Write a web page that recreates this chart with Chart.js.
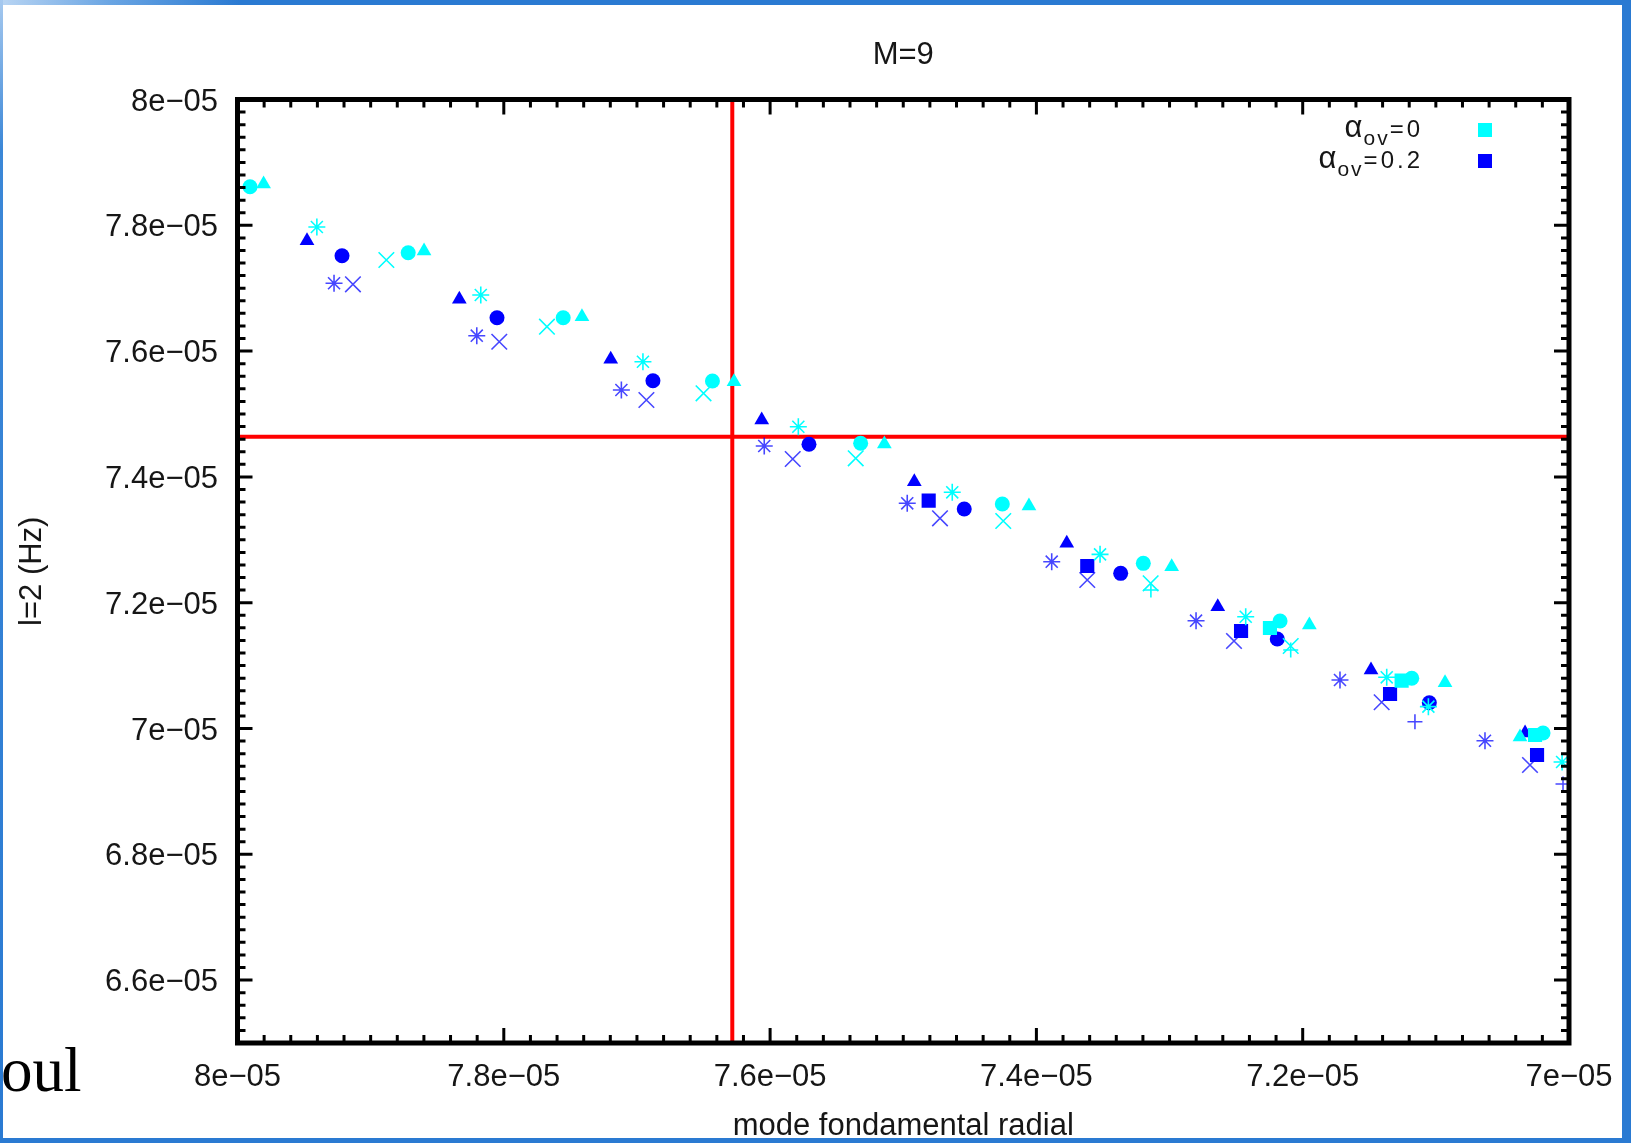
<!DOCTYPE html>
<html>
<head>
<meta charset="utf-8">
<title>M=9</title>
<script src="https://cdn.jsdelivr.net/npm/chart.js@4.4.1/dist/chart.umd.min.js"></script>
<style>
  html, body { margin: 0; padding: 0; background: #fff; }
  #page { position: relative; width: 1631px; height: 1143px; overflow: hidden; background: #fff; }
  #chart { position: absolute; left: 0; top: 0; }
  #fragment {
    position: absolute; left: 1px; top: 1039px;
    font-family: "Liberation Serif", "Times New Roman", serif;
    font-size: 63px; line-height: 1; color: #000;
  }
  .frame-top { position: absolute; left: 0; top: 0; width: 1631px; height: 5px;
    background: linear-gradient(to right, #b9d5f3 0px, #6aa5e3 110px, #2a7ad2 240px, #2a7ad2 100%); }
  .frame-left { position: absolute; left: 0; top: 0; width: 3px; height: 1143px;
    background: linear-gradient(to bottom, #a6c9ef 0px, #3b87d7 150px, #2a7ad2 100%); }
  .frame-right { position: absolute; right: 0; top: 0; width: 9px; height: 1143px; background: #2a7ad2; }
  .frame-bottom { position: absolute; left: 0; bottom: 0; width: 1631px; height: 5px; background: #2a7ad2; }
</style>
</head>
<body>
<div id="page">
  <canvas id="chart" width="1631" height="1143"></canvas>
  <div id="fragment">oul</div>
  <div class="frame-top"></div>
  <div class="frame-left"></div>
  <div class="frame-right"></div>
  <div class="frame-bottom"></div>
</div>
<script>
// axes
const X_MIN = 7e-5, X_MAX = 8e-5;
const Y_MIN = 6.5e-5, Y_MAX = 8e-5;
const xTickValues = [8e-5, 7.8e-5, 7.6e-5, 7.4e-5, 7.2e-5, 7e-5];
const xTickLabels = ['8e\u221205', '7.8e\u221205', '7.6e\u221205', '7.4e\u221205', '7.2e\u221205', '7e\u221205'];
const yTickValues = [8e-5, 7.8e-5, 7.6e-5, 7.4e-5, 7.2e-5, 7e-5, 6.8e-5, 6.6e-5];
const yTickLabels = ['8e\u221205', '7.8e\u221205', '7.6e\u221205', '7.4e\u221205', '7.2e\u221205', '7e\u221205', '6.8e\u221205', '6.6e\u221205'];

// alpha_ov = 0 (cyan)
const cyanCircleX   = [7.9906e-5, 7.8718e-5, 7.7554e-5, 7.6433e-5, 7.532e-5, 7.4256e-5, 7.3197e-5, 7.217e-5, 7.1181e-5, 7.0195e-5];
const cyanCircleY   = [7.8614e-5, 7.7564e-5, 7.6531e-5, 7.5525e-5, 7.4534e-5, 7.3569e-5, 7.2626e-5, 7.1709e-5, 7.0798e-5, 6.9928e-5];
const cyanTriangleX = [7.9804e-5, 7.8599e-5, 7.7413e-5, 7.6271e-5, 7.5142e-5, 7.4056e-5, 7.2984e-5, 7.195e-5, 7.0931e-5, 7.0368e-5];
const cyanTriangleY = [7.8657e-5, 7.7591e-5, 7.6547e-5, 7.5514e-5, 7.4523e-5, 7.3537e-5, 7.2572e-5, 7.1645e-5, 7.0728e-5, 6.9865e-5];
const cyanCrossX    = [7.8882e-5, 7.7676e-5, 7.65e-5, 7.5357e-5, 7.4249e-5, 7.3142e-5, 7.209e-5];
const cyanCrossY    = [7.7448e-5, 7.6388e-5, 7.5329e-5, 7.4296e-5, 7.3299e-5, 7.2308e-5, 7.1312e-5];
const cyanStarX     = [7.9404e-5, 7.8173e-5, 7.6955e-5, 7.5788e-5, 7.4632e-5, 7.3522e-5, 7.2428e-5, 7.1369e-5, 7.1056e-5, 7.0052e-5];
const cyanStarY     = [7.7973e-5, 7.6892e-5, 7.5831e-5, 7.4798e-5, 7.3755e-5, 7.2769e-5, 7.1777e-5, 7.0814e-5, 7.0347e-5, 6.9467e-5];
const cyanSquareX   = [7.2246e-5, 7.1257e-5, 7.0255e-5];
const cyanSquareY   = [7.1598e-5, 7.076e-5, 6.9897e-5];
const cyanPlusX     = [7.314e-5, 7.209e-5];
const cyanPlusY     = [7.2202e-5, 7.1248e-5];

// alpha_ov = 0.2 (blue)
const blueCircleX   = [7.9215e-5, 7.8051e-5, 7.688e-5, 7.5708e-5, 7.4542e-5, 7.3367e-5, 7.2191e-5, 7.1049e-5];
const blueCircleY   = [7.7517e-5, 7.6531e-5, 7.5529e-5, 7.4518e-5, 7.349e-5, 7.2467e-5, 7.1423e-5, 7.041e-5];
const blueTriangleX = [7.9478e-5, 7.8334e-5, 7.7197e-5, 7.6063e-5, 7.4917e-5, 7.3772e-5, 7.2638e-5, 7.1487e-5, 7.033e-5];
const blueTriangleY = [7.7755e-5, 7.6823e-5, 7.587e-5, 7.4905e-5, 7.3924e-5, 7.2944e-5, 7.1936e-5, 7.093e-5, 6.9928e-5];
const blueCrossX    = [7.9133e-5, 7.8034e-5, 7.6929e-5, 7.583e-5, 7.4724e-5, 7.3618e-5, 7.2516e-5, 7.1407e-5, 7.0293e-5];
const blueCrossY    = [7.7062e-5, 7.6149e-5, 7.5223e-5, 7.4285e-5, 7.3342e-5, 7.2361e-5, 7.1391e-5, 7.0417e-5, 6.942e-5];
const blueStarX     = [7.9275e-5, 7.8203e-5, 7.7117e-5, 7.6044e-5, 7.497e-5, 7.3885e-5, 7.2801e-5, 7.172e-5, 7.0631e-5];
const blueStarY     = [7.7078e-5, 7.6245e-5, 7.5382e-5, 7.4491e-5, 7.358e-5, 7.2652e-5, 7.1714e-5, 7.0771e-5, 6.9806e-5];
const blueSquareX   = [7.4809e-5, 7.3618e-5, 7.2463e-5, 7.1344e-5, 7.024e-5];
const blueSquareY   = [7.3622e-5, 7.2583e-5, 7.155e-5, 7.0548e-5, 6.9579e-5];
const bluePlusX     = [7.1157e-5, 7.0045e-5];
const bluePlusY     = [7.0108e-5, 6.9118e-5];

// red reference lines
const refLineX = 7.6284e-5;
const refLineY = 7.4638e-5;

const legendLabels = ['0', '0.2'];

const CYAN = '#00ffff';
const BLUE = '#0000ff';
const BLUE_THIN = 'rgba(0,0,255,0.72)';
const FONT = '"Liberation Sans", Arial, Helvetica, sans-serif';
const TEXT = '#161616';

function pts(xs, ys) {
  return xs.map((v, i) => ({ x: v, y: ys[i] }));
}

function filled(xs, ys, color, style, r) {
  return {
    data: pts(xs, ys), pointStyle: style, pointRadius: r, pointHoverRadius: r,
    backgroundColor: color, borderColor: color, borderWidth: 0, clip: 2
  };
}

function stroked(xs, ys, color, style, r) {
  return {
    data: pts(xs, ys), pointStyle: style, pointRadius: r, pointHoverRadius: r,
    backgroundColor: color, borderColor: color, borderWidth: 1.6, clip: 2
  };
}

// gnuplot style border with inward ticks on all sides
const gnuplotFrame = {
  id: 'gnuplotFrame',
  afterDatasetsDraw(chart) {
    const { ctx, chartArea: { left, right, top, bottom }, scales: { x, y } } = chart;
    ctx.save();
    ctx.strokeStyle = '#000';
    ctx.lineWidth = 3;
    const nx = 50;
    for (let i = 0; i <= nx; i++) {
      const px = x.getPixelForValue(X_MAX - i * (X_MAX - X_MIN) / nx);
      const len = i % 10 === 0 ? 15 : 8;
      ctx.beginPath();
      ctx.moveTo(px, bottom); ctx.lineTo(px, bottom - len);
      ctx.moveTo(px, top); ctx.lineTo(px, top + len);
      ctx.stroke();
    }
    const ny = 75;
    for (let i = 0; i <= ny; i++) {
      const py = y.getPixelForValue(Y_MAX - i * (Y_MAX - Y_MIN) / ny);
      const len = i % 10 === 0 ? 15 : 8;
      ctx.beginPath();
      ctx.moveTo(left, py); ctx.lineTo(left + len, py);
      ctx.moveTo(right, py); ctx.lineTo(right - len, py);
      ctx.stroke();
    }
    ctx.lineWidth = 5;
    ctx.strokeRect(left, top, right - left, bottom - top);
    ctx.restore();
  }
};

function spacedWidth(ctx, text, gap) {
  let w = 0;
  for (const ch of text) w += ctx.measureText(ch).width + gap;
  return w - gap;
}

function spacedText(ctx, text, x0, yb, gap) {
  let xx = x0;
  for (const ch of text) {
    ctx.fillText(ch, xx, yb);
    xx += ctx.measureText(ch).width + gap;
  }
}

// legend: alpha_ov=... with a square key
const ovLegend = {
  id: 'ovLegend',
  afterDraw(chart) {
    const { ctx, chartArea: { right, top } } = chart;
    const colors = [CYAN, BLUE];
    ctx.save();
    ctx.fillStyle = TEXT;
    ctx.textAlign = 'left';
    ctx.textBaseline = 'alphabetic';
    legendLabels.forEach((lab, i) => {
      const base = top + 37.5 + i * 31;
      const xEnd = right - 149;
      ctx.font = '24px ' + FONT;
      const main = '=' + lab;
      const wMain = spacedWidth(ctx, main, 3);
      const xMain = xEnd - wMain;
      spacedText(ctx, main, xMain, base, 3);
      ctx.font = '21px ' + FONT;
      const wSub = spacedWidth(ctx, 'ov', 2);
      const xSub = xMain - 2 - wSub;
      spacedText(ctx, 'ov', xSub, base + 8, 2);
      ctx.font = '31px ' + FONT;
      const wA = ctx.measureText('\u03b1').width;
      ctx.fillText('\u03b1', xSub - 1 - wA, base);
      ctx.fillStyle = colors[i];
      ctx.fillRect(right - 91, top + 23.5 + i * 31, 14, 14);
      ctx.fillStyle = TEXT;
    });
    ctx.restore();
  }
};

const ctx = document.getElementById('chart').getContext('2d');

new Chart(ctx, {
  type: 'scatter',
  data: {
    datasets: [
      filled(cyanCircleX, cyanCircleY, CYAN, 'circle', 7.5),
      filled(cyanTriangleX, cyanTriangleY, CYAN, 'triangle', 8.5),
      stroked(cyanCrossX, cyanCrossY, CYAN, 'crossRot', 11),
      stroked(cyanStarX, cyanStarY, CYAN, 'star', 8.5),
      filled(cyanSquareX, cyanSquareY, CYAN, 'rect', 10),
      stroked(cyanPlusX, cyanPlusY, CYAN, 'cross', 7.5),
      filled(blueCircleX, blueCircleY, BLUE, 'circle', 7.5),
      filled(blueTriangleX, blueTriangleY, BLUE, 'triangle', 8.5),
      stroked(blueCrossX, blueCrossY, BLUE_THIN, 'crossRot', 11),
      stroked(blueStarX, blueStarY, BLUE_THIN, 'star', 8.5),
      filled(blueSquareX, blueSquareY, BLUE, 'rect', 10),
      stroked(bluePlusX, bluePlusY, BLUE_THIN, 'cross', 7.5),
      {
        type: 'line', data: [{ x: refLineX, y: Y_MIN }, { x: refLineX, y: Y_MAX }],
        borderColor: '#ff0000', borderWidth: 4, pointRadius: 0, fill: false, clip: 0
      },
      {
        type: 'line', data: [{ x: X_MAX, y: refLineY }, { x: X_MIN, y: refLineY }],
        borderColor: '#ff0000', borderWidth: 4, pointRadius: 0, fill: false, clip: 0
      }
    ]
  },
  options: {
    responsive: false,
    animation: false,
    devicePixelRatio: 1,
    layout: { padding: { left: 0, right: 62, top: 0, bottom: 0 } },
    plugins: {
      legend: { display: false },
      tooltip: { enabled: false },
      title: {
        display: true,
        text: 'M=9',
        fullSize: false,
        color: TEXT,
        font: { family: FONT, size: 31, weight: 'normal', lineHeight: 1.2 },
        padding: { top: 36.5, bottom: 25.8 }
      }
    },
    scales: {
      x: {
        type: 'linear', min: X_MIN, max: X_MAX, reverse: true,
        afterBuildTicks: s => { s.ticks = xTickValues.map(v => ({ value: v })); },
        afterFit: s => { s.height = 100; },
        grid: { display: false, drawTicks: false },
        border: { display: false },
        ticks: {
          padding: 16, autoSkip: false, maxRotation: 0, color: TEXT,
          font: { family: FONT, size: 31 },
          callback: (v, i) => xTickLabels[i]
        },
        title: {
          display: true, text: 'mode fondamental radial', color: TEXT,
          font: { family: FONT, size: 31, lineHeight: 1.08 },
          padding: { top: 0, bottom: 0 }
        }
      },
      y: {
        type: 'linear', min: Y_MIN, max: Y_MAX,
        afterBuildTicks: s => { s.ticks = yTickValues.map(v => ({ value: v })); },
        afterFit: s => { s.width = 237.5; },
        grid: { display: false, drawTicks: false },
        border: { display: false },
        ticks: {
          padding: 19.5, autoSkip: false, color: TEXT, labelOffset: 2.5,
          font: { family: FONT, size: 31 },
          callback: (v, i) => yTickLabels[i]
        },
        title: {
          display: true, text: 'l=2 (Hz)', color: TEXT,
          font: { family: FONT, size: 31, lineHeight: 1.2 },
          padding: { top: 14, bottom: 0 }
        }
      }
    }
  },
  plugins: [gnuplotFrame, ovLegend]
});
</script>
</body>
</html>
